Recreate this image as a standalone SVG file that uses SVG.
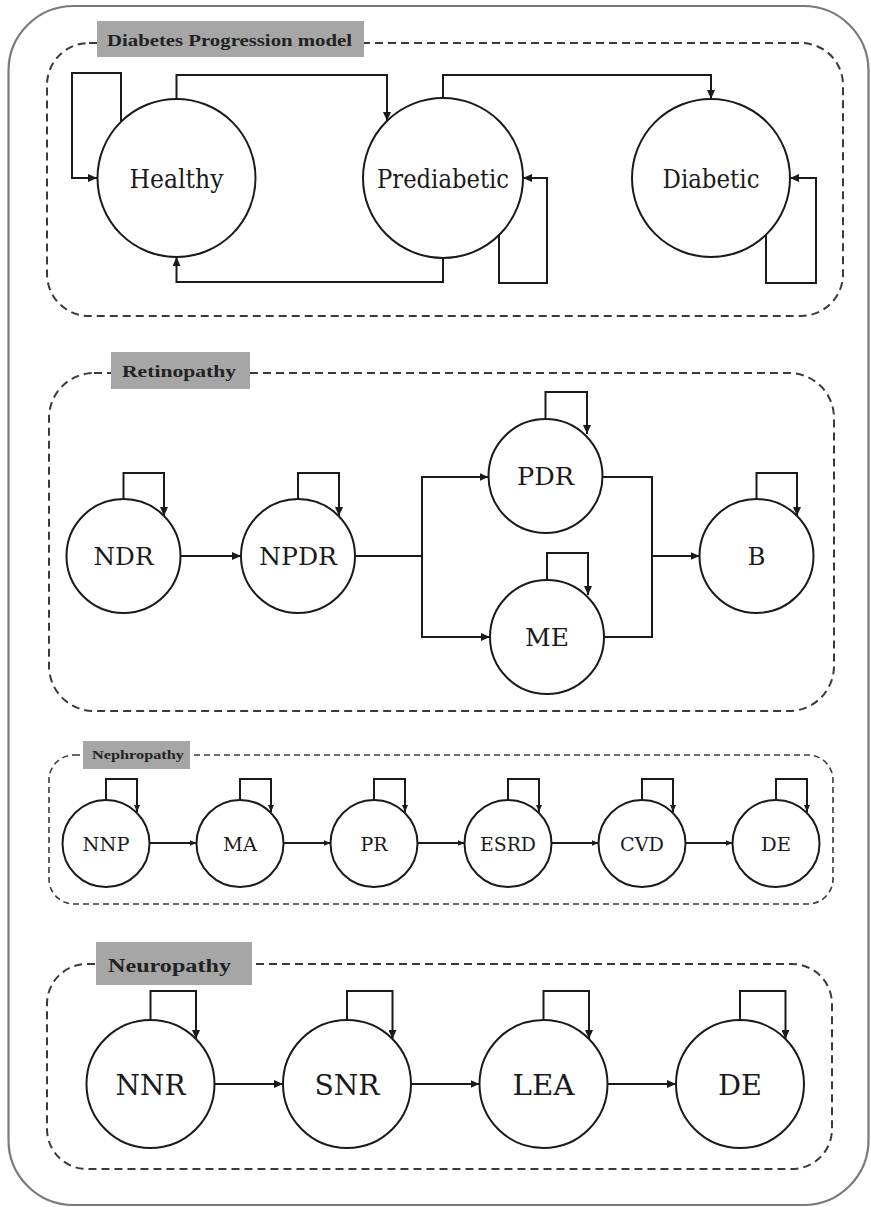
<svg xmlns="http://www.w3.org/2000/svg" width="871" height="1207" viewBox="0 0 871 1207">
  <style>
    .frame { fill: #ffffff; stroke: #7a7a7a; stroke-width: 2.2; }
    .group { fill: none; stroke: #3a3a3a; stroke-width: 2; stroke-dasharray: 8 5; }
    .group-thin { fill: none; stroke: #3a3a3a; stroke-width: 1.6; stroke-dasharray: 6 4; }
    .tag { fill: #a6a6a6; }
    .tag-text { font-family: "Liberation Serif", "DejaVu Serif", serif; font-weight: bold; fill: #222222; }
    .state { fill: #ffffff; stroke: #1a1a1a; stroke-width: 2; }
    .state-text { font-family: "DejaVu Serif", "Liberation Serif", serif; fill: #1a1a1a; text-anchor: middle; }
    .edge { fill: none; stroke: #1a1a1a; stroke-width: 2; stroke-linejoin: miter; }
  </style>
  <defs>
    <marker id="arr" markerUnits="userSpaceOnUse" markerWidth="10" markerHeight="8" refX="9" refY="4" orient="auto">
      <path d="M0,0 L9,4 L0,8 z" fill="#1a1a1a"/>
    </marker>
    <marker id="arr-s" markerUnits="userSpaceOnUse" markerWidth="8" markerHeight="6" refX="7" refY="3" orient="auto">
      <path d="M0,0 L7,3 L0,6 z" fill="#1a1a1a"/>
    </marker>
  </defs>

  <!-- outer frame -->
  <rect class="frame" x="8.5" y="6" width="860" height="1199" rx="65" ry="65"/>

  <!-- group frames -->
  <g id="group-progression">
    <rect class="group" x="47" y="43" width="796" height="273" rx="42" ry="42"/>
    <rect class="tag" x="97" y="21" width="267" height="36"/>
    <text class="tag-text" x="107" y="46" font-size="16" textLength="245" lengthAdjust="spacingAndGlyphs">Diabetes Progression model</text>
  </g>
  <g id="group-retinopathy">
    <rect class="group" x="49" y="373" width="785" height="338" rx="45" ry="45"/>
    <rect class="tag" x="111" y="352" width="139" height="37"/>
    <text class="tag-text" x="122" y="377" font-size="16" textLength="114" lengthAdjust="spacingAndGlyphs">Retinopathy</text>
  </g>
  <g id="group-nephropathy">
    <rect class="group-thin" x="49" y="755" width="784" height="149" rx="25" ry="25"/>
    <rect class="tag" x="83" y="741" width="107" height="28"/>
    <text class="tag-text" x="92" y="759" font-size="12" textLength="92" lengthAdjust="spacingAndGlyphs">Nephropathy</text>
  </g>
  <g id="group-neuropathy">
    <rect class="group" x="47" y="964" width="785" height="205" rx="40" ry="40"/>
    <rect class="tag" x="96" y="942" width="156" height="43"/>
    <text class="tag-text" x="108" y="972" font-size="18" textLength="123" lengthAdjust="spacingAndGlyphs">Neuropathy</text>
  </g>

  <!-- connectors -->
  <g id="connectors">
    <!-- diabetes progression -->
    <path class="edge" d="M121,122 V73 H72 V178 H97" marker-end="url(#arr)"/>
    <path class="edge" d="M176.5,99 V75 H387 V121" marker-end="url(#arr)"/>
    <path class="edge" d="M443,98 V75 H711 V99" marker-end="url(#arr)"/>
    <path class="edge" d="M443,258 V282 H176.5 V257" marker-end="url(#arr)"/>
    <path class="edge" d="M499,235 V283 H547 V178 H523" marker-end="url(#arr)"/>
    <path class="edge" d="M766,234 V283 H816 V178 H790" marker-end="url(#arr)"/>

    <!-- retinopathy -->
    <path class="edge" d="M123.5,499 V473 H164 V516" marker-end="url(#arr)"/>
    <path class="edge" d="M298,499 V473 H339 V516" marker-end="url(#arr)"/>
    <path class="edge" d="M545.5,419 V392 H587 V434" marker-end="url(#arr)"/>
    <path class="edge" d="M547,580 V553 H588 V595" marker-end="url(#arr)"/>
    <path class="edge" d="M756.5,499 V473 H797 V516" marker-end="url(#arr)"/>
    <path class="edge" d="M180.5,556 H241" marker-end="url(#arr)"/>
    <path class="edge" d="M355,556 H422"/>
    <path class="edge" d="M422,556 V477 H488.5" marker-end="url(#arr)"/>
    <path class="edge" d="M422,556 V637 H490" marker-end="url(#arr)"/>
    <path class="edge" d="M603,477 H652 V637 H604"/>
    <path class="edge" d="M652,556 H699.5" marker-end="url(#arr)"/>

    <!-- nephropathy -->
    <path class="edge" d="M106,800 V779 H137 V812" marker-end="url(#arr-s)"/>
    <path class="edge" d="M240,800 V779 H271 V812" marker-end="url(#arr-s)"/>
    <path class="edge" d="M374,800 V779 H405 V812" marker-end="url(#arr-s)"/>
    <path class="edge" d="M508,800 V779 H539 V812" marker-end="url(#arr-s)"/>
    <path class="edge" d="M642,800 V779 H673 V812" marker-end="url(#arr-s)"/>
    <path class="edge" d="M776,800 V779 H807 V812" marker-end="url(#arr-s)"/>
    <path class="edge" d="M149.5,843 H196.5" marker-end="url(#arr-s)"/>
    <path class="edge" d="M283.5,843 H330.5" marker-end="url(#arr-s)"/>
    <path class="edge" d="M417.5,843 H464.5" marker-end="url(#arr-s)"/>
    <path class="edge" d="M551.5,843 H598.5" marker-end="url(#arr-s)"/>
    <path class="edge" d="M685.5,843 H732.5" marker-end="url(#arr-s)"/>

    <!-- neuropathy -->
    <path class="edge" d="M150.5,1020 V991 H196 V1039" marker-end="url(#arr)"/>
    <path class="edge" d="M347,1020 V991 H392.5 V1039" marker-end="url(#arr)"/>
    <path class="edge" d="M543.5,1020 V991 H589 V1039" marker-end="url(#arr)"/>
    <path class="edge" d="M740,1020 V991 H785.5 V1039" marker-end="url(#arr)"/>
    <path class="edge" d="M214.5,1084 H283" marker-end="url(#arr)"/>
    <path class="edge" d="M411,1084 H479.5" marker-end="url(#arr)"/>
    <path class="edge" d="M607.5,1084 H676" marker-end="url(#arr)"/>
  </g>

  <!-- diabetes progression states -->
  <g id="node-healthy">
    <circle class="state" cx="176.5" cy="178" r="79"/>
    <text class="state-text" x="176.5" y="188" font-size="26" textLength="94" lengthAdjust="spacingAndGlyphs">Healthy</text>
  </g>
  <g id="node-prediabetic">
    <circle class="state" cx="443" cy="178" r="80"/>
    <text class="state-text" x="443" y="188" font-size="26" textLength="132" lengthAdjust="spacingAndGlyphs">Prediabetic</text>
  </g>
  <g id="node-diabetic">
    <circle class="state" cx="711" cy="178" r="79"/>
    <text class="state-text" x="711" y="188" font-size="26" textLength="97" lengthAdjust="spacingAndGlyphs">Diabetic</text>
  </g>

  <!-- retinopathy states -->
  <g id="node-ndr">
    <circle class="state" cx="123.5" cy="556" r="57"/>
    <text class="state-text" x="123.5" y="565" font-size="25" textLength="60" lengthAdjust="spacingAndGlyphs">NDR</text>
  </g>
  <g id="node-npdr">
    <circle class="state" cx="298" cy="556" r="57"/>
    <text class="state-text" x="298" y="565" font-size="25" textLength="78" lengthAdjust="spacingAndGlyphs">NPDR</text>
  </g>
  <g id="node-pdr">
    <circle class="state" cx="545.5" cy="476" r="57"/>
    <text class="state-text" x="545.5" y="485" font-size="25" textLength="57" lengthAdjust="spacingAndGlyphs">PDR</text>
  </g>
  <g id="node-me">
    <circle class="state" cx="547" cy="637" r="57"/>
    <text class="state-text" x="547" y="646" font-size="25" textLength="44" lengthAdjust="spacingAndGlyphs">ME</text>
  </g>
  <g id="node-b">
    <circle class="state" cx="756.5" cy="556" r="57"/>
    <text class="state-text" x="756.5" y="565" font-size="25" textLength="18" lengthAdjust="spacingAndGlyphs">B</text>
  </g>

  <!-- nephropathy states -->
  <g id="node-nnp">
    <circle class="state" cx="106" cy="843.5" r="43.5"/>
    <text class="state-text" x="106" y="851" font-size="19" textLength="47" lengthAdjust="spacingAndGlyphs">NNP</text>
  </g>
  <g id="node-ma">
    <circle class="state" cx="240" cy="843.5" r="43.5"/>
    <text class="state-text" x="240" y="851" font-size="19" textLength="34" lengthAdjust="spacingAndGlyphs">MA</text>
  </g>
  <g id="node-pr">
    <circle class="state" cx="374" cy="843.5" r="43.5"/>
    <text class="state-text" x="374" y="851" font-size="19" textLength="27" lengthAdjust="spacingAndGlyphs">PR</text>
  </g>
  <g id="node-esrd">
    <circle class="state" cx="508" cy="843.5" r="43.5"/>
    <text class="state-text" x="508" y="851" font-size="19" textLength="56" lengthAdjust="spacingAndGlyphs">ESRD</text>
  </g>
  <g id="node-cvd">
    <circle class="state" cx="642" cy="843.5" r="43.5"/>
    <text class="state-text" x="642" y="851" font-size="19" textLength="44" lengthAdjust="spacingAndGlyphs">CVD</text>
  </g>
  <g id="node-de-neph">
    <circle class="state" cx="776" cy="843.5" r="43.5"/>
    <text class="state-text" x="776" y="851" font-size="19" textLength="30" lengthAdjust="spacingAndGlyphs">DE</text>
  </g>

  <!-- neuropathy states -->
  <g id="node-nnr">
    <circle class="state" cx="150.5" cy="1084" r="64"/>
    <text class="state-text" x="150.5" y="1095" font-size="27" textLength="70" lengthAdjust="spacingAndGlyphs">NNR</text>
  </g>
  <g id="node-snr">
    <circle class="state" cx="347" cy="1084" r="64"/>
    <text class="state-text" x="347" y="1095" font-size="27" textLength="65" lengthAdjust="spacingAndGlyphs">SNR</text>
  </g>
  <g id="node-lea">
    <circle class="state" cx="543.5" cy="1084" r="64"/>
    <text class="state-text" x="543.5" y="1095" font-size="27" textLength="62" lengthAdjust="spacingAndGlyphs">LEA</text>
  </g>
  <g id="node-de-neuro">
    <circle class="state" cx="740" cy="1084" r="64"/>
    <text class="state-text" x="740" y="1095" font-size="27" textLength="44" lengthAdjust="spacingAndGlyphs">DE</text>
  </g>
</svg>
